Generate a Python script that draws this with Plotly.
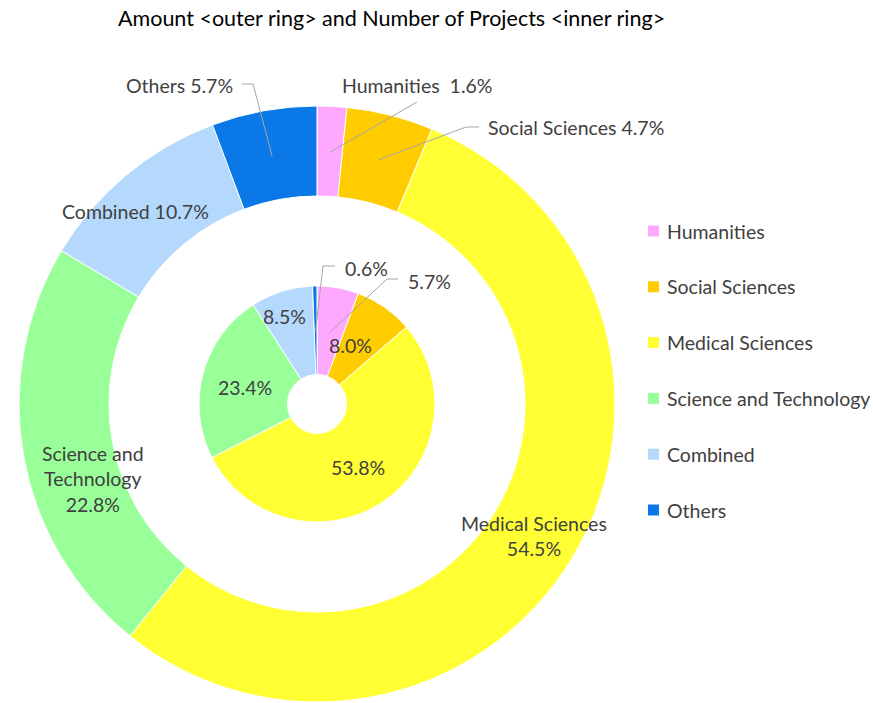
import math
import plotly.graph_objects as go

W, H = 873, 703

# ---------------- data ----------------
categories = ["Humanities", "Social Sciences", "Medical Sciences",
              "Science and Technology", "Combined", "Others"]
amount_pct = [1.6, 4.7, 54.5, 22.8, 10.7, 5.7]        # outer ring
projects_pct = [5.7, 8.0, 53.8, 23.4, 8.5, 0.6]       # inner ring
colors = ["#FFA8FF", "#FFCC00", "#FFFF33", "#99FF99", "#B4D9FC", "#0A78E6"]

title_text = "Amount &lt;outer ring&gt; and Number of Projects &lt;inner ring&gt;"

# ---------------- geometry (pixels) ----------------
CX, CY = 317, 404
R_OUT, HOLE_OUT = 298, 0.698
R_IN, HOLE_IN = 118, 0.25

FONT = "Lato, 'Open Sans', sans-serif"
FS = 19.5
TXT = "#404040"
LINE = "#A6A6A6"


def px2paper(x, y):
    return x / W, 1 - y / H


def domain(r):
    x0, y1 = px2paper(CX - r, CY - r)
    x1, y0 = px2paper(CX + r, CY + r)
    return dict(x=[x0, x1], y=[y0, y1])


def mid_point(values, idx, r):
    total = sum(values)
    start = sum(values[:idx])
    frac = (start + values[idx] / 2) / total
    th = frac * 2 * math.pi
    return CX + r * math.sin(th), CY - r * math.cos(th)


fig = go.Figure()

fig.add_trace(go.Pie(
    labels=categories, values=amount_pct, sort=False, direction="clockwise",
    rotation=0, hole=HOLE_OUT, domain=domain(R_OUT),
    marker=dict(colors=colors, line=dict(color="white", width=1)),
    textinfo="none", hoverinfo="label+percent", showlegend=False,
))
fig.add_trace(go.Pie(
    labels=categories, values=projects_pct, sort=False, direction="clockwise",
    rotation=0, hole=HOLE_IN, domain=domain(R_IN),
    marker=dict(colors=colors, line=dict(color="white", width=1)),
    textinfo="none", hoverinfo="label+percent", showlegend=False,
))

annotations = []
shapes = []


def label(text, x, y, xanchor="center", size=FS, color=TXT):
    px, py = px2paper(x, y)
    annotations.append(dict(
        text=text, x=px, y=py, xref="paper", yref="paper",
        xanchor=xanchor, yanchor="middle", showarrow=False,
        font=dict(family=FONT, size=size, color=color), align="center",
    ))


def leader(points):
    path = ""
    for k, (x, y) in enumerate(points):
        px, py = px2paper(x, y)
        path += ("M" if k == 0 else "L") + f"{px},{py} "
    shapes.append(dict(type="path", path=path.strip(), xref="paper", yref="paper",
                       line=dict(color=LINE, width=1)))


def pct(v):
    return f"{v:.1f}%"


# ---- outer ring labels ----
R_OUT_LEAD = 252
label(f"Others {pct(amount_pct[5])}", 235, 85, "right")
leader([(242, 84), (253, 84), mid_point(amount_pct, 5, R_OUT_LEAD)])

label(f"Humanities  {pct(amount_pct[0])}", 340, 86, "left")
leader([(417, 102), mid_point(amount_pct, 0, R_OUT_LEAD)])

label(f"Social Sciences {pct(amount_pct[1])}", 486, 128, "left")
leader([(479, 127), (466, 127), mid_point(amount_pct, 1, R_OUT_LEAD)])

label(f"Combined {pct(amount_pct[4])}", 135, 212)
label(f"Science and<br>Technology<br>{pct(amount_pct[3])}", 93, 479)
label(f"Medical Sciences<br>{pct(amount_pct[2])}", 534, 536)

# ---- inner ring labels ----
R_IN_LEAD = 73
label(pct(projects_pct[5]), 343, 268, "left")
leader([(335, 266), (323, 266), mid_point(projects_pct, 5, R_IN_LEAD)])

label(pct(projects_pct[0]), 406, 281, "left")
leader([(398, 279), (387, 279), mid_point(projects_pct, 0, R_IN_LEAD)])

label(pct(projects_pct[1]), 350, 346)
label(pct(projects_pct[2]), 358, 467)
label(pct(projects_pct[3]), 245, 387)
label(pct(projects_pct[4]), 284, 316)

# ---- legend (drawn manually to match spacing) ----
LEG_X, LEG_Y0, LEG_DY, SQ = 648, 231, 55.8, 11
for i, (c, col) in enumerate(zip(categories, colors)):
    yc = LEG_Y0 + i * LEG_DY
    x0, y0 = px2paper(LEG_X, yc - SQ / 2)
    x1, y1 = px2paper(LEG_X + SQ, yc + SQ / 2)
    shapes.append(dict(type="rect", x0=x0, x1=x1, y0=y1, y1=y0,
                       xref="paper", yref="paper", fillcolor=col,
                       line=dict(width=0)))
    label(c, 665, yc, "left")

# title
label(title_text, 391, 18, "center", size=21.5, color="#000000")

fig.update_layout(
    width=W, height=H,
    margin=dict(l=0, r=0, t=0, b=0),
    paper_bgcolor="white", plot_bgcolor="white",
    annotations=annotations, shapes=shapes,
    showlegend=False,
)

fig.write_html("out.html", config={"displayModeBar": False},
               post_script="document.body.style.margin='0';")
